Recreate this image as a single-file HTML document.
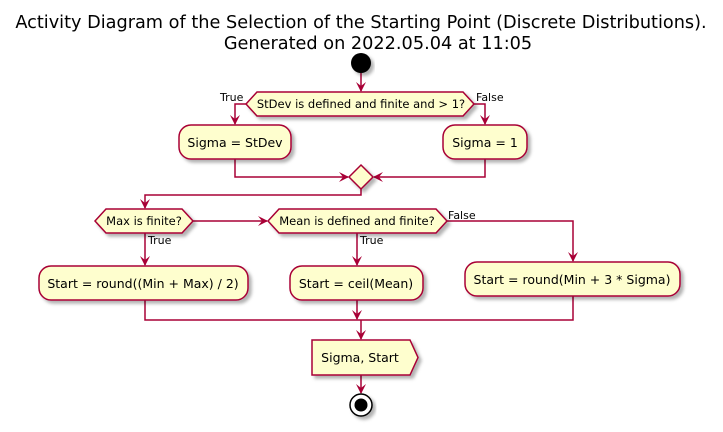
<!DOCTYPE html>
<html><head><meta charset="utf-8"><style>
body{margin:0;background:#fff}
svg{display:block}
text{font-family:"DejaVu Sans","Liberation Sans",sans-serif}
</style></head><body>
<svg width="723" height="432" viewBox="0 0 723 432" xmlns="http://www.w3.org/2000/svg">
<defs>
<filter id="sh" x="-10%" y="-10%" width="130%" height="150%"><feDropShadow dx="3" dy="3" stdDeviation="1.5" flood-color="#000" flood-opacity="0.3"/></filter>
<marker id="a" viewBox="0 0 10 10" refX="9" refY="5" markerWidth="10" markerHeight="10" orient="auto" markerUnits="userSpaceOnUse"><path d="M0,0 L10,5 L0,10 L4,5 Z" fill="#A80036"/></marker>
</defs>
<g text-anchor="middle" font-size="17.7" fill="#000">
<text x="361" y="28">Activity Diagram of the Selection of the Starting Point (Discrete Distributions).</text>
<text x="378" y="49">Generated on 2022.05.04 at 11:05</text>
</g>
<g stroke="#A80036" stroke-width="1.5" fill="none">
<line x1="361" y1="73" x2="361" y2="91" marker-end="url(#a)"/>
<polyline points="246,104 235,104 235,124" marker-end="url(#a)"/>
<polyline points="474,104 485,104 485,124" marker-end="url(#a)"/>
<polyline points="235,159 235,177 348,177" marker-end="url(#a)"/>
<polyline points="485,159 485,177 374,177" marker-end="url(#a)"/>
<polyline points="361,189 361,195 145,195 145,208" marker-end="url(#a)"/>
<line x1="193" y1="221" x2="267" y2="221" marker-end="url(#a)"/>
<line x1="145" y1="233" x2="145" y2="265" marker-end="url(#a)"/>
<line x1="357" y1="233" x2="357" y2="265" marker-end="url(#a)"/>
<polyline points="447,221 573,221 573,261" marker-end="url(#a)"/>
<polyline points="145,300 145,320 573,320 573,296"/>
<line x1="357" y1="300" x2="357" y2="319" marker-end="url(#a)"/>
<line x1="361" y1="320" x2="361" y2="339" marker-end="url(#a)"/>
<line x1="361" y1="375" x2="361" y2="393" marker-end="url(#a)"/>
</g>
<circle cx="361" cy="63" r="10" fill="#000" filter="url(#sh)"/>
<g fill="#FEFECE" stroke="#A80036" stroke-width="1.5" filter="url(#sh)">
<polygon points="246,104 257,92 463,92 474,104 463,116 257,116"/>
<rect x="179" y="125" width="112" height="34" rx="12"/>
<rect x="443" y="125" width="84" height="34" rx="12"/>
<polygon points="361,165 373,177 361,189 349,177"/>
<polygon points="95,221 106,209 182,209 193,221 182,233 106,233"/>
<polygon points="268,221 279,209 436,209 447,221 436,233 279,233"/>
<rect x="39" y="266" width="209" height="34" rx="12"/>
<rect x="290" y="266" width="133" height="34" rx="12"/>
<rect x="465" y="262" width="215" height="34" rx="12"/>
<polygon points="312,340 410,340 418,357.5 410,375 312,375"/>
</g>
<circle cx="361" cy="405" r="11" fill="#fff" stroke="#000" stroke-width="1.5" filter="url(#sh)"/>
<circle cx="361" cy="405" r="6.5" fill="#000"/>
<g font-size="11.5" fill="#000" text-anchor="middle">
<text x="361" y="108">StDev is defined and finite and &gt; 1?</text>
<text x="144" y="225">Max is finite?</text>
<text x="357" y="225">Mean is defined and finite?</text>
</g>
<g font-size="11" fill="#000">
<text x="220" y="101">True</text>
<text x="476" y="101">False</text>
<text x="148" y="244">True</text>
<text x="360" y="244">True</text>
<text x="448" y="219">False</text>
</g>
<g font-size="12.5" fill="#000" text-anchor="middle">
<text x="235" y="147">Sigma = StDev</text>
<text x="485" y="147">Sigma = 1</text>
<text x="143" y="288">Start = round((Min + Max) / 2)</text>
<text x="356" y="288">Start = ceil(Mean)</text>
<text x="572" y="284">Start = round(Min + 3 * Sigma)</text>
<text x="360" y="362">Sigma, Start</text>
</g>
</svg>
</body></html>
